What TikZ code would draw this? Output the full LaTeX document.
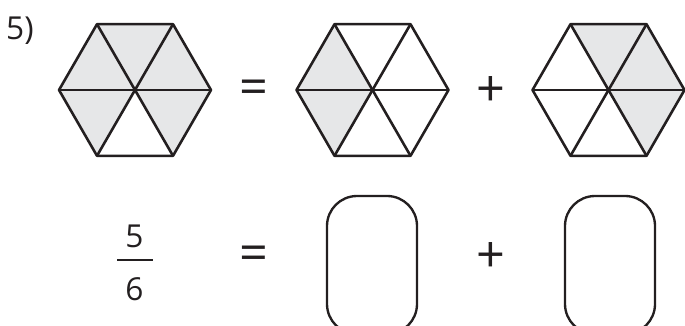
\documentclass[tikz,border=0pt]{standalone}
\usepackage{fontspec}
\setmainfont{Open Sans}
\definecolor{inkline}{HTML}{231F20}
\definecolor{paneshade}{HTML}{E6E7E8}
\tikzset{
	hexline/.style={line width=2.2pt, draw=inkline, line join=round},
	digit/.style={font=\fontsize{27}{30}\selectfont, text=inkline, inner sep=0pt},
	opsign/.style={font=\fontsize{43}{45}\selectfont, text=inkline, inner sep=0pt},
	answerbox/.style={draw=inkline, line width=2pt, rounded corners=0.9cm, minimum width=2.7cm, minimum height=4.14cm, inner sep=0pt}
}
\begin{document}
\begin{tikzpicture}[x=0.03cm, y=0.03cm]
		\useasboundingbox (0,0) rectangle (685,325);

		\coordinate (hexA) at (135,235);
		\coordinate (hexB) at (372.5,235);
		\coordinate (hexC) at (608.5,235);

		\foreach \hex/\k in {hexA/0, hexA/1, hexA/2, hexA/3, hexA/5, hexB/2, hexB/3, hexC/0, hexC/1, hexC/5}
			\fill[paneshade] (\hex) -- ([shift={(60*\k:76)}]\hex) -- ([shift={(60*\k+60:76)}]\hex) -- cycle;

		\foreach \hex in {hexA, hexB, hexC} {
			\draw[hexline] ([shift={(0:76)}]\hex) \foreach \a in {60,120,...,300} { -- ([shift={(\a:76)}]\hex) } -- cycle;
			\foreach \a in {0,60,120}
				\draw[hexline] ([shift={(\a:76)}]\hex) -- ([shift={(\a+180:76)}]\hex);
		}

		\node[digit, anchor=base west] (item) at (6,286) {5)};

		\node[opsign] (eqTop) at (253.5,233) {=};
		\node[opsign] (plusTop) at (490.5,233) {+};

		\node[digit, anchor=base] (num) at (134.5,78) {5};
		\node[digit, anchor=base] (den) at (134.5,25) {6};
		\coordinate (barL) at (117,65);
		\coordinate (barR) at (153,65);
		\draw[inkline, line width=1.6pt] (barL) -- (barR);

		\node[opsign] (eqBot) at (253.5,67) {=};
		\node[opsign] (plusBot) at (490.5,67) {+};

		\begin{scope}
			\clip (0,0) rectangle (685,325);
			\node[answerbox] (boxB) at (372,60) {};
			\node[answerbox] (boxC) at (610,60) {};
		\end{scope}
	\end{tikzpicture}
\end{document}
